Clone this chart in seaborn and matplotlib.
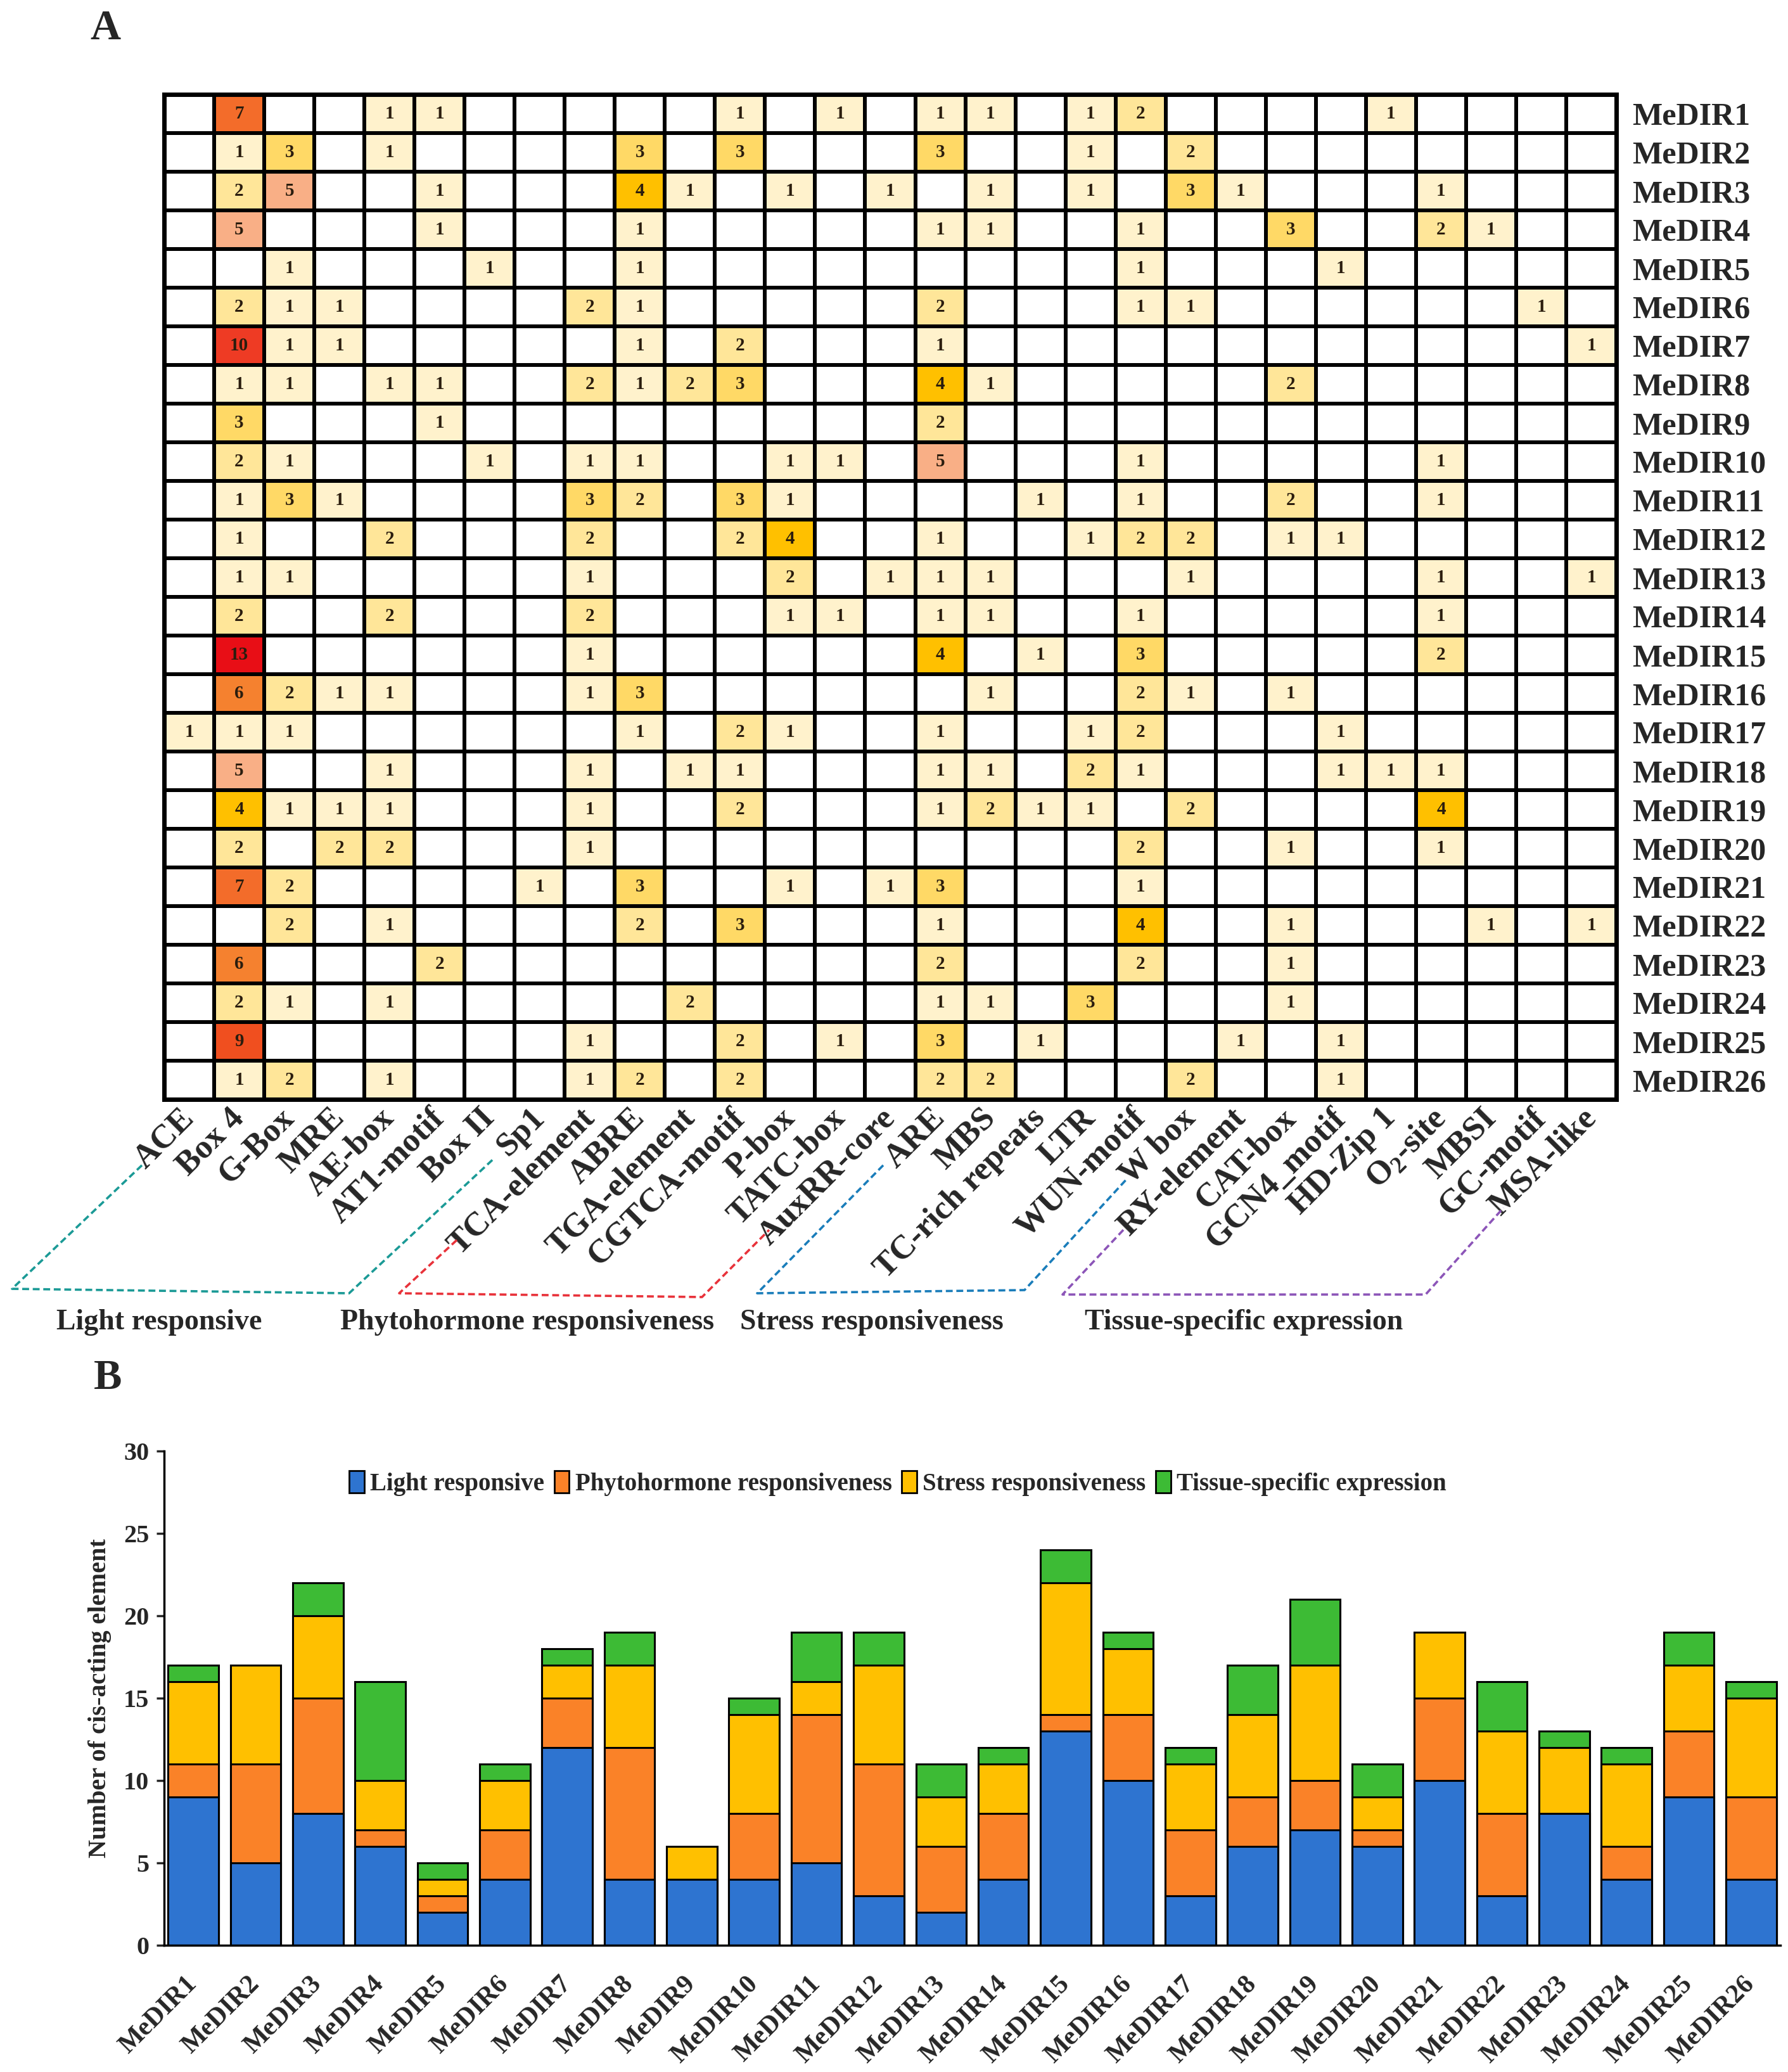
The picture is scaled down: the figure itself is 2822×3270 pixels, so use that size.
import numpy as np
import pandas as pd
import matplotlib
matplotlib.use('Agg')
import matplotlib.pyplot as plt
import seaborn as sns
from matplotlib.colors import ListedColormap, BoundaryNorm
from matplotlib.lines import Line2D
from matplotlib.patches import Patch

# ---------------- data ----------------
genes = [f'MeDIR{i}' for i in range(1, 27)]

elements = ['ACE', 'Box 4', 'G-Box', 'MRE', 'AE-box', 'AT1-motif', 'Box II', 'Sp1',
            'TCA-element', 'ABRE', 'TGA-element', 'CGTCA-motif', 'P-box', 'TATC-box',
            'AuxRR-core', 'ARE', 'MBS', 'TC-rich repeats', 'LTR', 'WUN-motif', 'W box',
            'RY-element', 'CAT-box', 'GCN4_motif', 'HD-Zip 1', 'O2-site', 'MBSI',
            'GC-motif', 'MSA-like']

element_labels = [r'O$_\mathbf{2}$-site' if e == 'O2-site' else e for e in elements]

# non-zero cells of panel A, per gene
cell_counts = {
    'MeDIR1': {'Box 4': 7, 'AE-box': 1, 'AT1-motif': 1, 'CGTCA-motif': 1, 'TATC-box': 1,
               'ARE': 1, 'MBS': 1, 'LTR': 1, 'WUN-motif': 2, 'HD-Zip 1': 1},
    'MeDIR2': {'Box 4': 1, 'G-Box': 3, 'AE-box': 1, 'ABRE': 3, 'CGTCA-motif': 3,
               'ARE': 3, 'LTR': 1, 'W box': 2},
    'MeDIR3': {'Box 4': 2, 'G-Box': 5, 'AT1-motif': 1, 'ABRE': 4, 'TGA-element': 1,
               'P-box': 1, 'AuxRR-core': 1, 'MBS': 1, 'LTR': 1, 'W box': 3,
               'RY-element': 1, 'O2-site': 1},
    'MeDIR4': {'Box 4': 5, 'AT1-motif': 1, 'ABRE': 1, 'ARE': 1, 'MBS': 1, 'WUN-motif': 1,
               'CAT-box': 3, 'O2-site': 2, 'MBSI': 1},
    'MeDIR5': {'G-Box': 1, 'Box II': 1, 'ABRE': 1, 'WUN-motif': 1, 'GCN4_motif': 1},
    'MeDIR6': {'Box 4': 2, 'G-Box': 1, 'MRE': 1, 'TCA-element': 2, 'ABRE': 1, 'ARE': 2,
               'WUN-motif': 1, 'W box': 1, 'GC-motif': 1},
    'MeDIR7': {'Box 4': 10, 'G-Box': 1, 'MRE': 1, 'ABRE': 1, 'CGTCA-motif': 2, 'ARE': 1,
               'MSA-like': 1},
    'MeDIR8': {'Box 4': 1, 'G-Box': 1, 'AE-box': 1, 'AT1-motif': 1, 'TCA-element': 2,
               'ABRE': 1, 'TGA-element': 2, 'CGTCA-motif': 3, 'ARE': 4, 'MBS': 1,
               'CAT-box': 2},
    'MeDIR9': {'Box 4': 3, 'AT1-motif': 1, 'ARE': 2},
    'MeDIR10': {'Box 4': 2, 'G-Box': 1, 'Box II': 1, 'TCA-element': 1, 'ABRE': 1,
                'P-box': 1, 'TATC-box': 1, 'ARE': 5, 'WUN-motif': 1, 'O2-site': 1},
    'MeDIR11': {'Box 4': 1, 'G-Box': 3, 'MRE': 1, 'TCA-element': 3, 'ABRE': 2,
                'CGTCA-motif': 3, 'P-box': 1, 'TC-rich repeats': 1, 'WUN-motif': 1,
                'CAT-box': 2, 'O2-site': 1},
    'MeDIR12': {'Box 4': 1, 'AE-box': 2, 'TCA-element': 2, 'CGTCA-motif': 2, 'P-box': 4,
                'ARE': 1, 'LTR': 1, 'WUN-motif': 2, 'W box': 2, 'CAT-box': 1,
                'GCN4_motif': 1},
    'MeDIR13': {'Box 4': 1, 'G-Box': 1, 'TCA-element': 1, 'P-box': 2, 'AuxRR-core': 1,
                'ARE': 1, 'MBS': 1, 'W box': 1, 'O2-site': 1, 'MSA-like': 1},
    'MeDIR14': {'Box 4': 2, 'AE-box': 2, 'TCA-element': 2, 'P-box': 1, 'TATC-box': 1,
                'ARE': 1, 'MBS': 1, 'WUN-motif': 1, 'O2-site': 1},
    'MeDIR15': {'Box 4': 13, 'TCA-element': 1, 'ARE': 4, 'TC-rich repeats': 1,
                'WUN-motif': 3, 'O2-site': 2},
    'MeDIR16': {'Box 4': 6, 'G-Box': 2, 'MRE': 1, 'AE-box': 1, 'TCA-element': 1, 'ABRE': 3,
                'MBS': 1, 'WUN-motif': 2, 'W box': 1, 'CAT-box': 1},
    'MeDIR17': {'ACE': 1, 'Box 4': 1, 'G-Box': 1, 'ABRE': 1, 'CGTCA-motif': 2, 'P-box': 1,
                'ARE': 1, 'LTR': 1, 'WUN-motif': 2, 'GCN4_motif': 1},
    'MeDIR18': {'Box 4': 5, 'AE-box': 1, 'TCA-element': 1, 'TGA-element': 1,
                'CGTCA-motif': 1, 'ARE': 1, 'MBS': 1, 'LTR': 2, 'WUN-motif': 1,
                'GCN4_motif': 1, 'HD-Zip 1': 1, 'O2-site': 1},
    'MeDIR19': {'Box 4': 4, 'G-Box': 1, 'MRE': 1, 'AE-box': 1, 'TCA-element': 1,
                'CGTCA-motif': 2, 'ARE': 1, 'MBS': 2, 'TC-rich repeats': 1, 'LTR': 1,
                'W box': 2, 'O2-site': 4},
    'MeDIR20': {'Box 4': 2, 'MRE': 2, 'AE-box': 2, 'TCA-element': 1, 'WUN-motif': 2,
                'CAT-box': 1, 'O2-site': 1},
    'MeDIR21': {'Box 4': 7, 'G-Box': 2, 'Sp1': 1, 'ABRE': 3, 'P-box': 1, 'AuxRR-core': 1,
                'ARE': 3, 'WUN-motif': 1},
    'MeDIR22': {'G-Box': 2, 'AE-box': 1, 'ABRE': 2, 'CGTCA-motif': 3, 'ARE': 1,
                'WUN-motif': 4, 'CAT-box': 1, 'MBSI': 1, 'MSA-like': 1},
    'MeDIR23': {'Box 4': 6, 'AT1-motif': 2, 'ARE': 2, 'WUN-motif': 2, 'CAT-box': 1},
    'MeDIR24': {'Box 4': 2, 'G-Box': 1, 'AE-box': 1, 'TGA-element': 2, 'ARE': 1, 'MBS': 1,
                'LTR': 3, 'CAT-box': 1},
    'MeDIR25': {'Box 4': 9, 'TCA-element': 1, 'CGTCA-motif': 2, 'TATC-box': 1, 'ARE': 3,
                'TC-rich repeats': 1, 'RY-element': 1, 'GCN4_motif': 1},
    'MeDIR26': {'Box 4': 1, 'G-Box': 2, 'AE-box': 1, 'TCA-element': 1, 'ABRE': 2,
                'CGTCA-motif': 2, 'ARE': 2, 'MBS': 2, 'W box': 2, 'GCN4_motif': 1},
}

# panel B, counts per category
categories = ['Light responsive', 'Phytohormone responsiveness',
              'Stress responsiveness', 'Tissue-specific expression']
light = [9, 5, 8, 6, 2, 4, 12, 4, 4, 4, 5, 3, 2, 4, 13, 10, 3, 6, 7, 6, 10, 3, 8, 4, 9, 4]
phyto = [2, 6, 7, 1, 1, 3, 3, 8, 0, 4, 9, 8, 4, 4, 1, 4, 4, 3, 3, 1, 5, 5, 0, 2, 4, 5]
stress = [5, 6, 5, 3, 1, 3, 2, 5, 2, 6, 2, 6, 3, 3, 8, 4, 4, 5, 7, 2, 4, 5, 4, 5, 4, 6]
tissue = [1, 0, 2, 6, 1, 1, 1, 2, 0, 1, 3, 2, 2, 1, 2, 1, 1, 3, 4, 2, 0, 3, 1, 1, 2, 1]

# ---------------- style ----------------
W, H = 2822, 3270
sns.set_theme(style='ticks')
plt.rcParams['font.family'] = ['Liberation Serif', 'DejaVu Serif']
plt.rcParams['font.weight'] = 'bold'
plt.rcParams['mathtext.fontset'] = 'custom'
plt.rcParams['mathtext.rm'] = 'Liberation Serif:bold'
plt.rcParams['mathtext.bf'] = 'Liberation Serif:bold'

heat_colors = ['#FFFFFF', '#FFF2CC', '#FFE699', '#FFD966', '#FFC000', '#F9AF86', '#F5812F',
               '#F36C2A', '#F25E24', '#F04F1F', '#EE3B24', '#EC2C20', '#EA1D1C', '#E80E16']
bar_colors = ['#2E74D0', '#FA8228', '#FFC000', '#3DBB35']

fig = plt.figure(figsize=(W / 100, H / 100), dpi=100)


def px_box(x0, y0, x1, y1):
    return [x0 / W, 1 - y1 / H, (x1 - x0) / W, (y1 - y0) / H]


# ---------------- panel A: heatmap ----------------
df = pd.DataFrame(0, index=genes, columns=elements)
for g, d in cell_counts.items():
    for e, v in d.items():
        df.loc[g, e] = v
annot = df.astype(str).where(df > 0, '')

cmap = ListedColormap(heat_colors)
norm = BoundaryNorm(np.arange(-0.5, len(heat_colors) + 0.5), cmap.N)

axA = fig.add_axes(px_box(259, 149, 2551, 1735))
sns.heatmap(df, ax=axA, cmap=cmap, norm=norm, cbar=False, annot=annot, fmt='',
            annot_kws=dict(fontsize=21, fontweight='bold', color='#2b1d0e'),
            linewidths=4, linecolor='black', xticklabels=element_labels,
            yticklabels=genes)
for sp in axA.spines.values():
    sp.set_visible(True)
    sp.set_linewidth(5)
    sp.set_color('black')
axA.yaxis.tick_right()
axA.set_yticklabels(genes, rotation=0, ha='left', fontsize=36, fontweight='bold')
axA.set_xticklabels(element_labels, rotation=45, ha='right', va='center',
                    rotation_mode='anchor', fontsize=38, fontweight='bold')
axA.tick_params(axis='both', length=0)
axA.tick_params(axis='x', pad=16)
axA.tick_params(axis='y', pad=18)
axA.set_xlabel('')
axA.set_ylabel('')

# group brackets below the element names
brackets = [
    ('Light responsive', '#1B9A96', [(224, 1839), (19, 2034), (551, 2041), (781, 1827)], 251),
    ('Phytohormone responsiveness', '#E8323A', [(721, 1957), (630, 2041), (1108, 2047), (1214, 1941)], 832),
    ('Stress responsiveness', '#1A7DBA', [(1394, 1839), (1195, 2041), (1617, 2036), (1779, 1860)], 1376),
    ('Tissue-specific expression', '#8C55B8', [(1773, 1941), (1677, 2043), (2250, 2043), (2373, 1906)], 1963),
]
for name, col, pts, xc in brackets:
    xs = [p[0] / W for p in pts]
    ys = [1 - p[1] / H for p in pts]
    fig.add_artist(Line2D(xs, ys, transform=fig.transFigure, color=col, lw=2.6,
                          ls=(0, (3, 1.6))))
    fig.text(xc / W, 1 - 2087 / H, name, ha='center', va='center', fontsize=33,
             fontweight='bold')

fig.text(166 / W, 1 - 46 / H, 'A', ha='center', va='center', fontsize=48, fontweight='bold')
fig.text(170 / W, 1 - 2176 / H, 'B', ha='center', va='center', fontsize=48, fontweight='bold')

# ---------------- panel B: stacked bars ----------------
bars = pd.DataFrame({'gene': genes, 'light': light, 'phyto': phyto,
                     'stress': stress, 'tissue': tissue})
layers = [
    (bars[['light', 'phyto', 'stress', 'tissue']].sum(axis=1), bar_colors[3]),
    (bars[['light', 'phyto', 'stress']].sum(axis=1), bar_colors[2]),
    (bars[['light', 'phyto']].sum(axis=1), bar_colors[1]),
    (bars['light'], bar_colors[0]),
]

axB = fig.add_axes(px_box(259, 2290, 2810, 3070))
for cum, col in layers:
    sns.barplot(x=bars['gene'], y=cum, order=genes, color=col, saturation=1,
                edgecolor='black', linewidth=2.2, width=0.81, ax=axB)

axB.set_ylim(0, 30)
axB.set_xlim(-0.47, 25.47)
axB.set_yticks(range(0, 31, 5))
axB.set_yticklabels([str(v) for v in range(0, 31, 5)], fontsize=29, fontweight='bold')
axB.set_xticks(range(len(genes)))
axB.set_xticklabels(genes, rotation=45, ha='right', va='center', rotation_mode='anchor',
                    fontsize=30, fontweight='bold')
axB.tick_params(axis='x', length=0, pad=40)
axB.tick_params(axis='y', length=9, width=2.5, direction='out', pad=8)
axB.set_xlabel('')
axB.set_ylabel('Number of cis-acting element', fontsize=29, fontweight='bold', labelpad=14)
sns.despine(ax=axB)
axB.spines['left'].set_linewidth(2.5)
axB.spines['bottom'].set_linewidth(2.5)
axB.spines['left'].set_color('black')
axB.spines['bottom'].set_color('black')

handles = [Patch(facecolor=c, edgecolor='black', linewidth=2) for c in bar_colors]
axB.legend(handles, categories, loc='center', bbox_to_anchor=(0.454, 0.935), ncol=4,
           frameon=False, handlelength=0.6, handleheight=1.0,
           handletextpad=0.25, columnspacing=0.4, prop=dict(weight='bold', size=28))

fig.savefig('out.png', dpi=100, facecolor='white')
